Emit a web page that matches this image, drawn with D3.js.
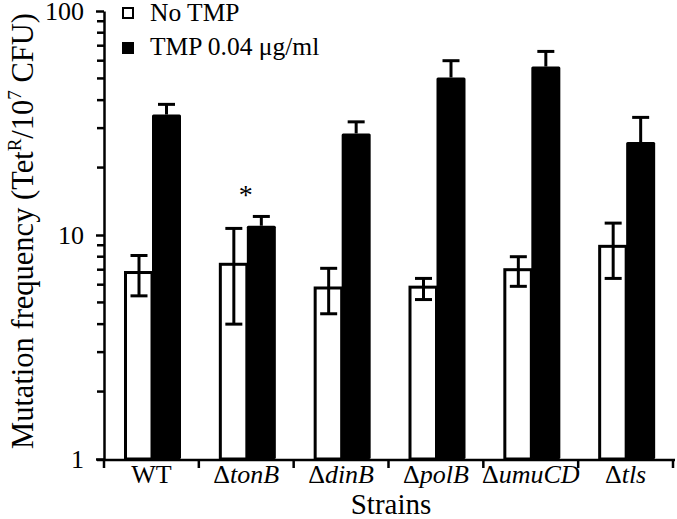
<!DOCTYPE html>
<html><head><meta charset="utf-8">
<script src="https://cdn.jsdelivr.net/npm/d3@7"></script>
<style>body{margin:0;background:#fff}svg{display:block}</style>
</head><body><svg id="c" width="677" height="519"></svg>
<script>
const strains = ["WT","tonB","dinB","polB","umuCD","tls"];
const noTmp = [6.8, 7.4, 5.8, 5.85, 7.0, 8.9];
const noTmpHi = [8.1, 10.7, 7.1, 6.4, 8.0, 11.3];
const noTmpLo = [5.35, 4.0, 4.45, 5.15, 5.9, 6.4];
const tmp = [34.5, 11.0, 28.4, 50.5, 56.5, 26.0];
const tmpHi = [38.3, 12.1, 32.0, 60.0, 66.0, 33.5];
const yTicks = [1, 10, 100];
const series = ["No TMP", "TMP 0.04 μg/ml"];

const FONT = "'Liberation Serif', Tinos, 'Times New Roman', Times, 'DejaVu Serif', serif";
const svg = d3.select("#c").style("font-family", FONT);
const x = d3.scaleBand().domain(strains).range([104, 673]).padding(0);
const x1 = d3.scaleBand().domain([0,1]).range([20, 76]).padding(0);
const y = d3.scaleLog().domain([1, 100]).range([459, 11]);

// minor ticks
const minor = [];
for (let d = 1; d < 100; d *= 10) for (let k = 2; k <= 9; k++) minor.push(d*k);
svg.append("g").selectAll("line").data(minor).join("line")
  .attr("x1", 97).attr("x2", 104).attr("y1", d => y(d)).attr("y2", d => y(d))
  .attr("stroke", "#000").attr("stroke-width", 2.5);

// y axis
const ya = svg.append("g").attr("transform", "translate(104,0)")
  .call(d3.axisLeft(y).tickValues(yTicks).tickFormat(d3.format("d")).tickSizeInner(8).tickSizeOuter(0).tickPadding(12));
ya.attr("font-family", FONT);
ya.select(".domain").attr("stroke-width", 2.5);
ya.selectAll(".tick line").attr("stroke-width", 2.5);
ya.selectAll(".tick text").attr("font-size", 26).style("font-family", FONT);

// bars
const g = svg.append("g");
strains.forEach((s, i) => {
  const gx = x(s);
  g.append("rect").attr("x", gx + x1(0) + 1.5).attr("y", y(noTmp[i]))
    .attr("width", x1.bandwidth() - 1.5).attr("height", y(1) - y(noTmp[i]))
    .attr("fill", "#fff").attr("stroke", "#000").attr("stroke-width", 3);
  g.append("rect").attr("x", gx + x1(1)).attr("y", y(tmp[i]))
    .attr("width", x1.bandwidth() + 1).attr("height", y(1) - y(tmp[i]))
    .attr("rx", 1.5).attr("fill", "#000");
  const cw = gx + x1(0) + x1.bandwidth()/2 + 1;
  g.append("line").attr("x1", cw).attr("x2", cw).attr("y1", y(noTmpHi[i])).attr("y2", y(noTmpLo[i]))
    .attr("stroke", "#000").attr("stroke-width", 3);
  [noTmpHi[i], noTmpLo[i]].forEach(v => g.append("line").attr("x1", cw-8.5).attr("x2", cw+8.5)
    .attr("y1", y(v)).attr("y2", y(v)).attr("stroke", "#000").attr("stroke-width", 3));
  const cb = gx + x1(1) + x1.bandwidth()/2 + 0.5;
  g.append("line").attr("x1", cb).attr("x2", cb).attr("y1", y(tmpHi[i])).attr("y2", y(tmp[i]))
    .attr("stroke", "#000").attr("stroke-width", 3);
  g.append("line").attr("x1", cb-8.5).attr("x2", cb+8.5).attr("y1", y(tmpHi[i])).attr("y2", y(tmpHi[i]))
    .attr("stroke", "#000").attr("stroke-width", 3);
});

// asterisk
svg.append("text").attr("x", x("tonB") + 47).attr("y", y(15.7) + 13)
  .attr("text-anchor", "middle").attr("font-size", 28).text("*");

// x axis
const xa = svg.append("g").attr("transform", "translate(0,460)");
xa.append("line").attr("x1", 97).attr("x2", 675).attr("stroke", "#000").attr("stroke-width", 2.5);
const bounds = strains.map(s => x(s)).concat([x(strains[strains.length-1]) + x.bandwidth()]);
xa.selectAll(".xt").data(bounds).join("line").attr("class", "xt")
  .attr("x1", d => d).attr("x2", d => d).attr("y1", 0).attr("y2", 8)
  .attr("stroke", "#000").attr("stroke-width", 2.5);
strains.forEach(s => {
  const t = xa.append("text").attr("x", x(s) + x.bandwidth()/2).attr("y", 23)
    .attr("text-anchor", "middle").attr("font-size", 26);
  if (s === "WT") t.text(s);
  else { t.append("tspan").text("Δ"); t.append("tspan").attr("font-style", "italic").text(s); }
});
svg.append("text").attr("x", 391).attr("y", 514).attr("text-anchor", "middle").attr("font-size", 29).text("Strains");

// y title
const yt = svg.append("text").attr("transform", "translate(33,231) rotate(-90)")
  .attr("text-anchor", "middle").attr("font-size", 30.5);
yt.append("tspan").text("Mutation frequency (Tet");
yt.append("tspan").attr("font-size", 19).attr("dy", -12).text("R");
yt.append("tspan").attr("dy", 12).text("/10");
yt.append("tspan").attr("font-size", 19).attr("dy", -12).text("7");
yt.append("tspan").attr("dy", 12).text(" CFU)");

// legend
const lg = svg.append("g");
series.forEach((s, i) => {
  lg.append("rect").attr("x", 123).attr("y", 8 + i*35).attr("width", 10).attr("height", 10)
    .attr("fill", i ? "#000" : "#fff").attr("stroke", "#000").attr("stroke-width", 2);
  lg.append("text").attr("x", 150).attr("y", 21 + i*34).attr("font-size", 25.5).text(s);
});
</script></body></html>
